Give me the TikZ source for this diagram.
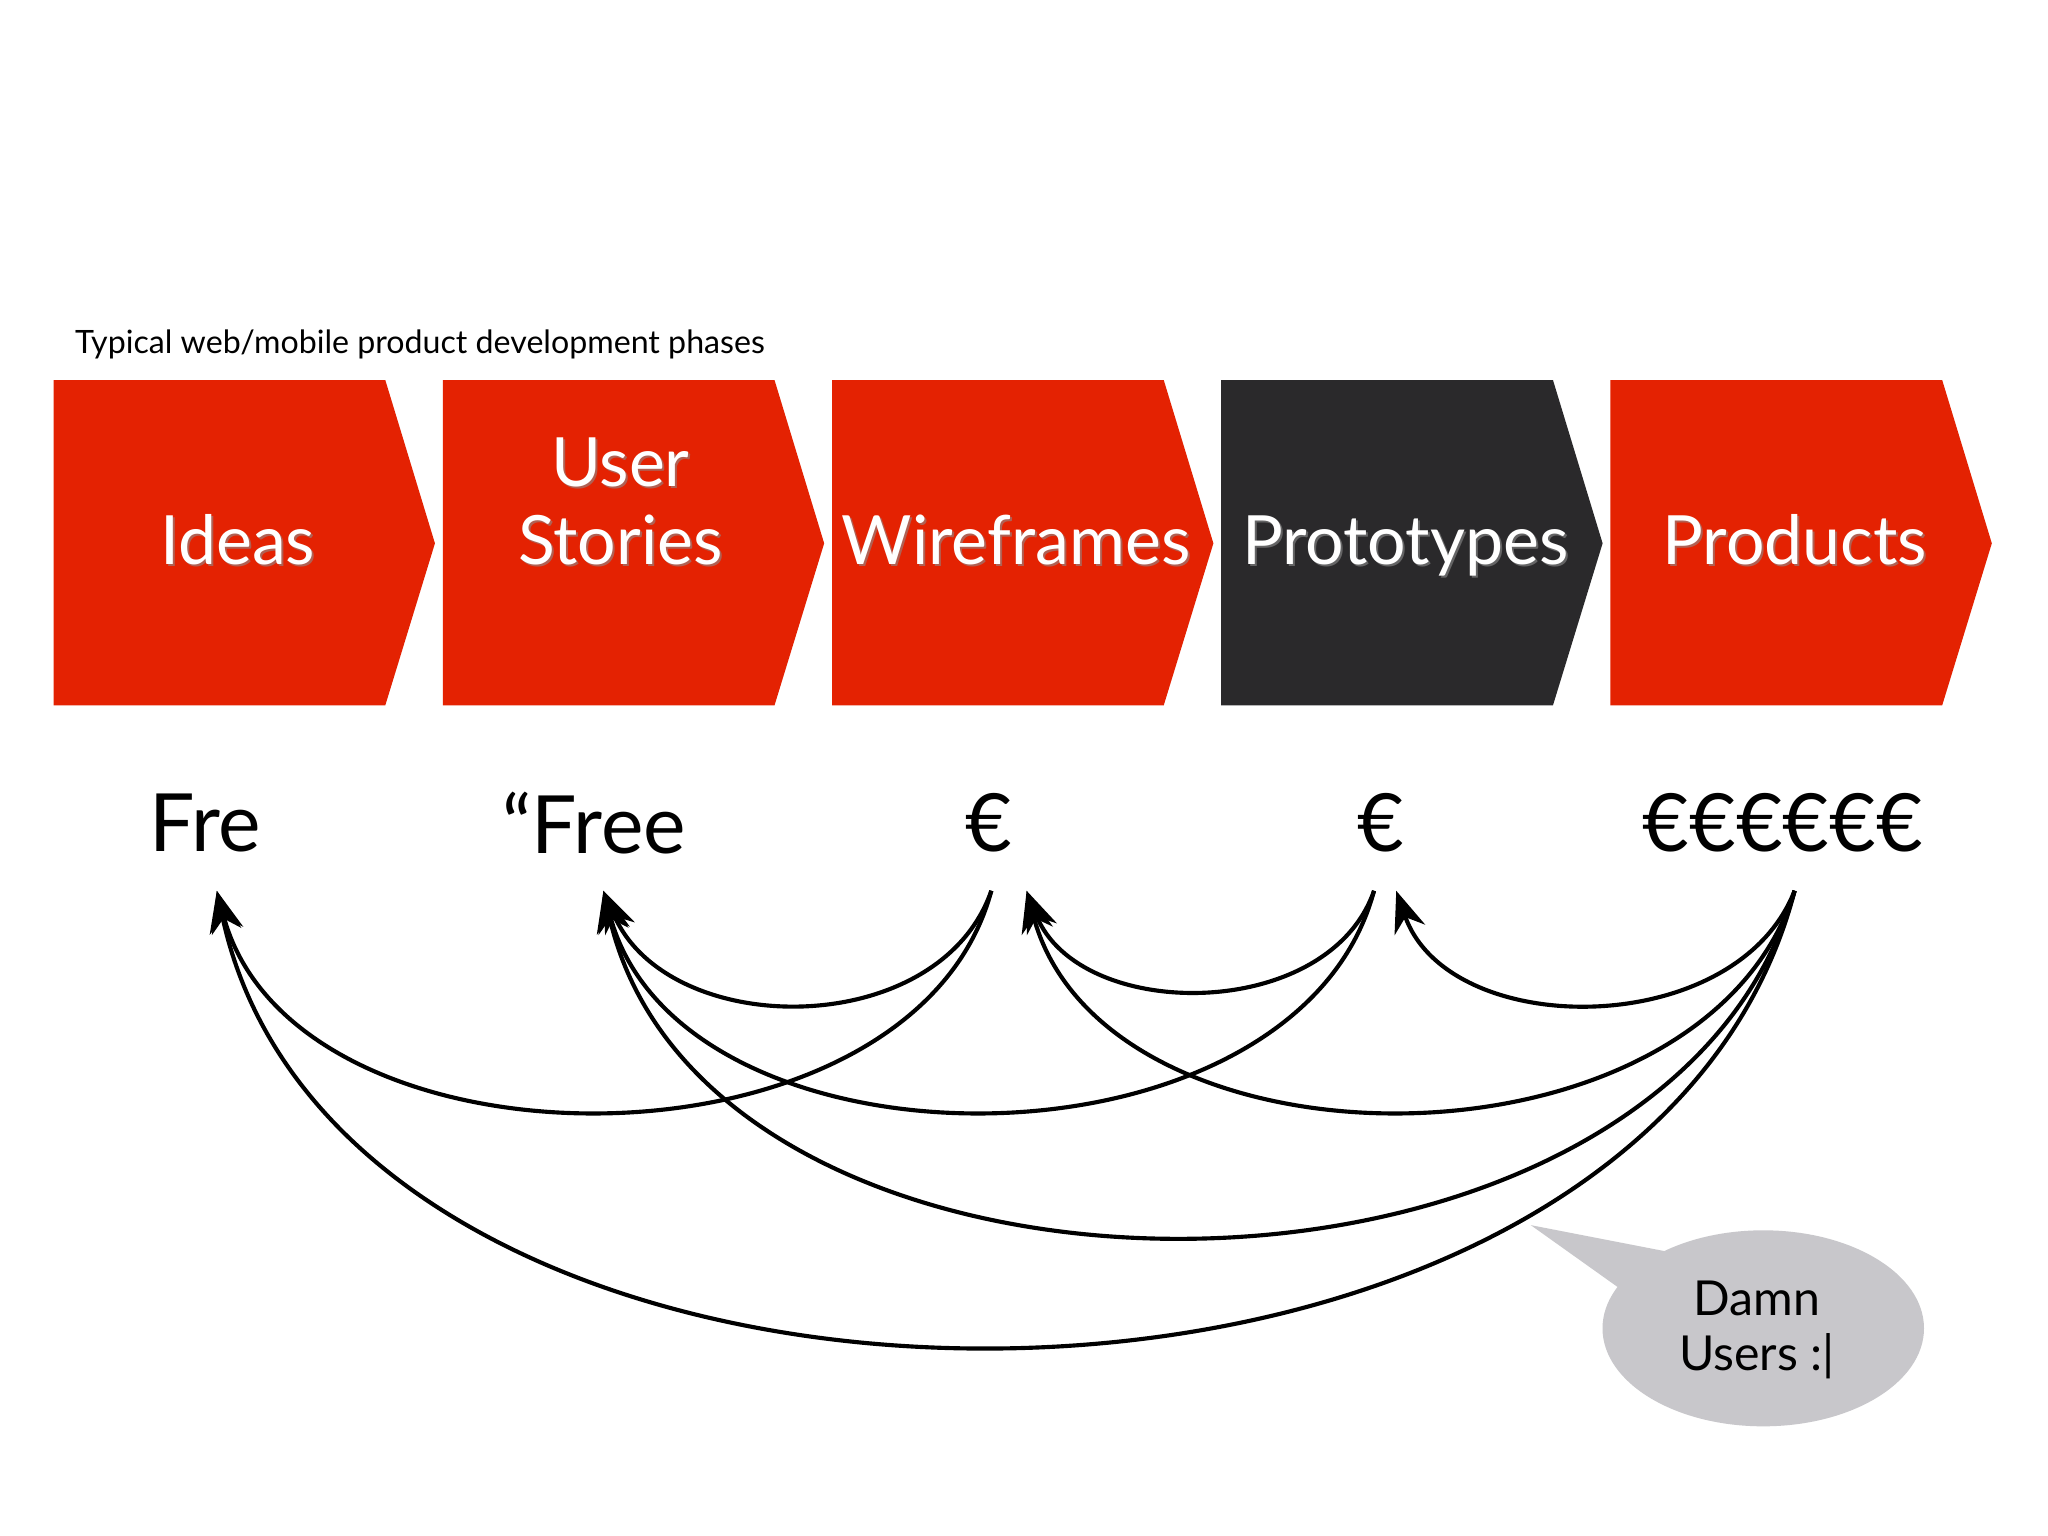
\documentclass[tikz,border=0pt]{standalone}
\usepackage{fontspec}
\setmainfont{Lato}
\usetikzlibrary{arrows.meta,shapes.geometric}
\definecolor{red1}{HTML}{E42202}
\definecolor{dark1}{HTML}{2A292B}
\definecolor{bub}{HTML}{C8C7CB}
\begin{document}
\begin{tikzpicture}[x=0.01cm,y=-0.01cm,
  lab/.style={text=white,font=\fontsize{14.8}{17}\selectfont,align=center,text height=11pt,text depth=3pt},
  shd/.style={text=black!45,font=\fontsize{14.8}{17}\selectfont,align=center,text height=11pt,text depth=3pt,opacity=0.6},
  money/.style={font=\fontsize{17.5}{18}\selectfont},
  arr/.style={line width=0.9pt,-{Stealth[length=9pt,width=7pt]}}]
\useasboundingbox (0,0) rectangle (1568,1176);
\fill[white] (0,0) rectangle (1568,1176);
\node[anchor=west,font=\fontsize{7}{8}\selectfont] (title) at (45,264) {Typical web/mobile product development phases};
\foreach \x/\c/\n in {41/red1/c1,339/red1/c2,637/red1/c3,935/dark1/c4,1233/red1/c5}{
  \fill[\c] (\x,291) -- (\x+254,291) -- (\x+292,416) -- (\x+254,540) -- (\x,540) -- cycle;
}
\foreach \x/\t/\n in {182/Ideas/l1,475/{User\\Stories}/l2,778/Wireframes/l3,1076/Prototypes/l4,1374/Products/l5}{
  \node[shd] at (\x+1.5,418+1.5) {\t};
  \node[lab] (\n) at (\x,418) {\t};
}
\node[money] (m1) at (157,630) {Fre};
\node[money] (m2) at (455,630) {“Free};
\node[money] (m3) at (757,630) {€};
\node[money] (m4) at (1057,630) {€};
\node[money] (m5) at (1365,630) {€€€€€€};
\coordinate (t3) at (759,682);
\coordinate (t4) at (1052,682);
\coordinate (t5) at (1374,682);
\coordinate (h1) at (166,682);
\coordinate (h2) at (462,682);
\coordinate (h3) at (786,682);
\coordinate (h4) at (1069,682);
\draw[arr] (t3) .. controls +(-40,115) and +(50,115) .. (h2);
\draw[arr] (t3) .. controls +(-60,224) and +(60,224) .. (h1);
\draw[arr] (t4) .. controls +(-35,101) and +(40,101) .. (h3);
\draw[arr] (t4) .. controls +(-60,224) and +(60,224) .. (h2);
\draw[arr] (t5) .. controls +(-45,115) and +(40,115) .. (h4);
\draw[arr] (t5) .. controls +(-70,224) and +(60,224) .. (h3);
\draw[arr] (t5) .. controls +(-100,352) and +(80,352) .. (h2);
\draw[arr] (t5) .. controls +(-120,464) and +(100,464) .. (h1);
\fill[bub] (1172,938) -- (1275,958) -- (1245,990) -- cycle;
\node[ellipse,fill=bub,inner sep=0pt,minimum width=2.46cm,minimum height=1.5cm] (bubble) at (1350,1017) {};
\node[align=center,font=\fontsize{10.5}{12}\selectfont] (btext) at (1345,1018) {Damn\\Users :|};
\end{tikzpicture}
\end{document}
